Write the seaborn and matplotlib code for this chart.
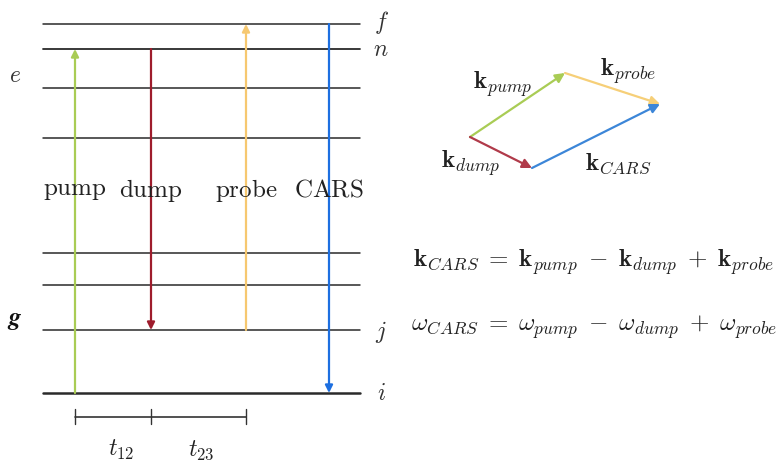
import matplotlib
matplotlib.use("Agg")
import matplotlib.pyplot as plt
import seaborn as sns
import pandas as pd

sns.set_theme(style="white")
plt.rcParams['mathtext.fontset'] = 'cm'
plt.rcParams['font.family'] = ['DejaVu Serif']

# ---- data (diagram in pixel units) ----
level_y = [24, 49, 88, 138, 253, 285, 330, 393]
level_w = [1.1, 1.3, 1.1, 1.1, 1.1, 1.1, 1.1, 1.8]
level_x0, level_x1 = 43, 360
level_labels = ['$f$', '$n$', '$j$', '$i$']
level_label_y = [22, 49, 332, 393]

beam_names = ['pump', 'dump', 'probe', 'CARS']
beam_x = [75, 151, 246, 329]
beam_from = [393, 49, 330, 24]
beam_to = [49, 330, 24, 393]
beam_colors = ['#a9cc55', '#9e1c2c', '#f6c870', '#1d6fe0']

time_marks = [75, 151, 246]
time_labels = ['$t_{12}$', '$t_{23}$']
time_label_x = [121, 201]

vec_start = [(470, 137), (470, 137), (565, 73), (532, 168)]
vec_end = [(565, 73), (532, 168), (660, 104), (660, 104)]
vec_names = [r'$\mathbf{k}_{pump}$', r'$\mathbf{k}_{dump}$',
             r'$\mathbf{k}_{probe}$', r'$\mathbf{k}_{CARS}$']
vec_colors = ['#a9cc55', '#b03a4a', '#f6cf78', '#3c86d8']
vec_label_pos = [(503, 84), (471, 163), (628, 71), (618, 164)]

eq1 = r'$\mathbf{k}_{CARS}\;=\;\mathbf{k}_{pump}\;-\;\mathbf{k}_{dump}\;+\;\mathbf{k}_{probe}$'
eq2 = r'$\omega_{CARS}\;=\;\omega_{pump}\;-\;\omega_{dump}\;+\;\omega_{probe}$'

fig = plt.figure(figsize=(7.8, 4.62), dpi=100)
ax = fig.add_axes([0, 0, 1, 1])

# energy levels via seaborn
rows = []
for k, y in enumerate(level_y):
    rows.append(dict(x=level_x0, y=y, lvl=k))
    rows.append(dict(x=level_x1, y=y, lvl=k))
df = pd.DataFrame(rows)
for k, w in enumerate(level_w):
    sns.lineplot(data=df[df.lvl == k], x='x', y='y', color='#2a2a2a',
                 linewidth=w, ax=ax, legend=False, estimator=None)
ax.set_xlim(0, 780)
ax.set_ylim(462, 0)
ax.axis('off')

for lab, y in zip(level_labels, level_label_y):
    ax.text(381, y, lab, fontsize=17, ha='center', va='center', color='#333333')
ax.text(15, 75, '$e$', fontsize=17, ha='center', va='center', color='#333333')
ax.text(15, 320, r'$\boldsymbol{g}$', fontsize=18, ha='center', va='center', color='#111111')

# beams
for name, x, y0, y1, c in zip(beam_names, beam_x, beam_from, beam_to, beam_colors):
    ax.annotate('', xy=(x, y1), xytext=(x, y0),
                arrowprops=dict(arrowstyle='-|>', color=c, lw=1.6,
                                mutation_scale=11, shrinkA=0, shrinkB=0))
    ax.text(x, 190, r'$\mathrm{%s}$' % name, fontsize=18, ha='center', va='center',
            color='#222222')

# time bar
ax.plot([time_marks[0], time_marks[-1]], [417, 417], color='#333333', lw=1.2)
for x in time_marks:
    ax.plot([x, x], [409, 424], color='#333333', lw=1.0)
for lab, xm in zip(time_labels, time_label_x):
    ax.text(xm, 450, lab, fontsize=17, ha='center', va='center', color='#222222')

# wave vectors
for s, e, c in zip(vec_start, vec_end, vec_colors):
    ax.annotate('', xy=e, xytext=s,
                arrowprops=dict(arrowstyle='-|>', color=c, lw=1.6,
                                mutation_scale=14, shrinkA=0, shrinkB=0))
for lab, (x, y) in zip(vec_names, vec_label_pos):
    ax.text(x, y, lab, fontsize=18, ha='center', va='center', color='#222222')

ax.text(594, 262, eq1, fontsize=18, ha='center', va='center', color='#222222')
ax.text(594, 327, eq2, fontsize=18, ha='center', va='center', color='#222222')

fig.savefig('out.png', dpi=100)
